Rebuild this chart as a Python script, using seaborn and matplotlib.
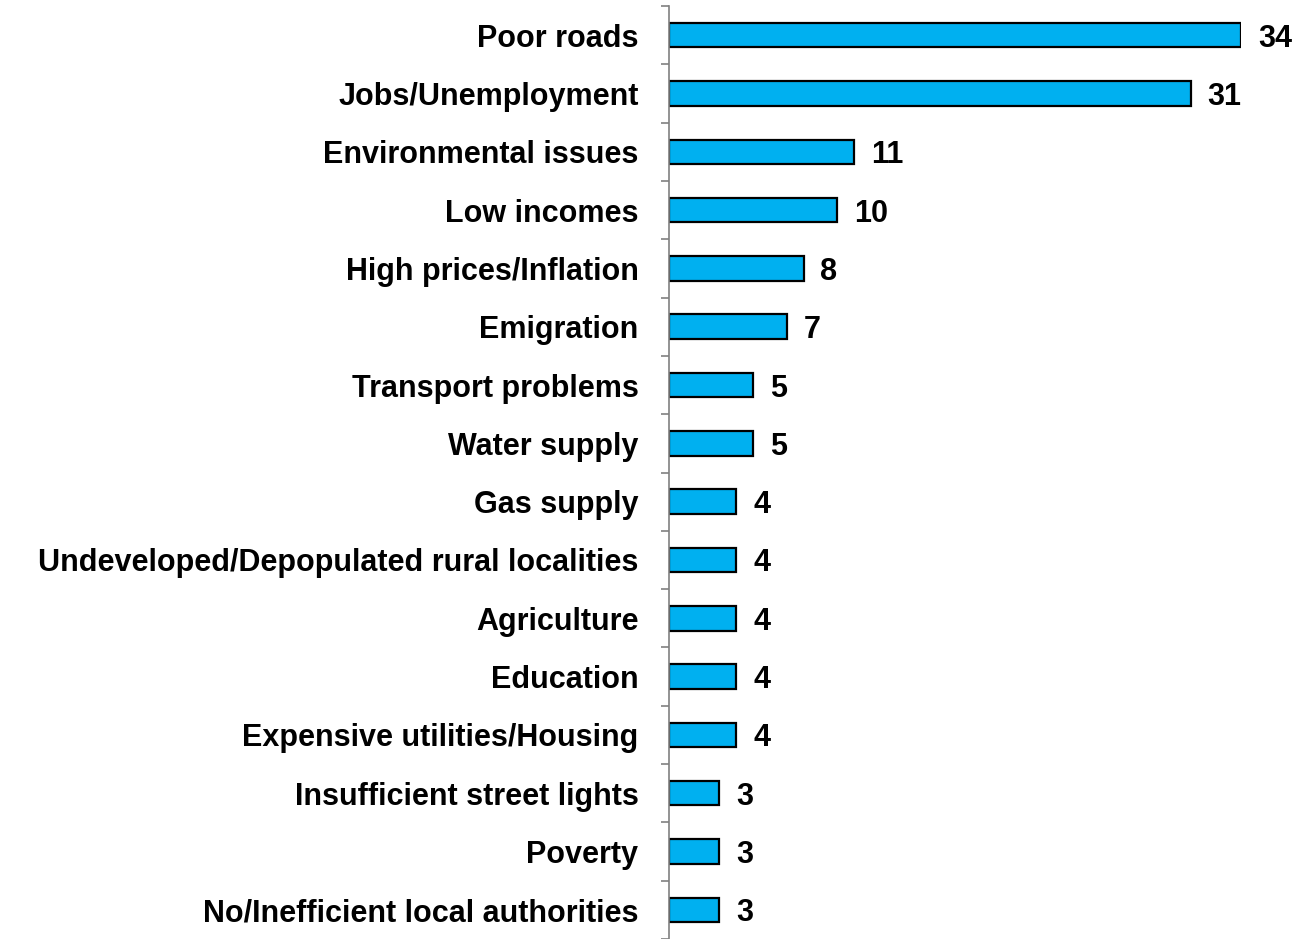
import numpy as np
import pandas as pd
import matplotlib
matplotlib.use("Agg")
import matplotlib.pyplot as plt
import seaborn as sns
from matplotlib.ticker import FixedLocator

problems = [
    "Poor roads",
    "Jobs/Unemployment",
    "Environmental issues",
    "Low incomes",
    "High prices/Inflation",
    "Emigration",
    "Transport problems",
    "Water supply",
    "Gas supply",
    "Undeveloped/Depopulated rural localities",
    "Agriculture",
    "Education",
    "Expensive utilities/Housing",
    "Insufficient street lights",
    "Poverty",
    "No/Inefficient local authorities",
]
values = [34, 31, 11, 10, 8, 7, 5, 5, 4, 4, 4, 4, 4, 3, 3, 3]

df = pd.DataFrame({"problem": problems, "value": values})

sns.set_style("white")
plt.rcParams["font.family"] = ["Liberation Sans", "DejaVu Sans"]
plt.rcParams["text.color"] = "black"
plt.rcParams["ytick.labelcolor"] = "black"

fig = plt.figure(figsize=(12.95, 9.39), dpi=100)
ax = fig.add_axes([669 / 1295, 0.0, 572 / 1295, 933 / 939])

sns.barplot(data=df, x="value", y="problem", orient="h", color="#00B0F0",
            saturation=1, width=0.42, edgecolor="black", linewidth=1.6, ax=ax)

ax.set_xlim(0, 34)
ax.set_ylim(len(problems) - 0.5, -0.5)

for i, v in enumerate(values):
    ax.text(v + 1.0, i, str(v), va="center_baseline", ha="left", fontsize=22,
            fontweight="bold", color="black", clip_on=False)

ax.set_xlabel("")
ax.set_ylabel("")
ax.set_xticks([])
for s in ["top", "right", "bottom"]:
    ax.spines[s].set_visible(False)
ax.spines["left"].set_color("#808080")
ax.spines["left"].set_linewidth(1.2)

ax.tick_params(axis="y", which="major", length=0, pad=22, labelsize=22,
               labelcolor="black")
for lab in ax.get_yticklabels():
    lab.set_fontweight("bold")
ax.yaxis.set_minor_locator(FixedLocator(np.arange(-0.5, len(problems), 1.0)))
ax.tick_params(axis="y", which="minor", length=6, width=1.2, color="#808080",
               left=True)

fig.savefig("out.png", dpi=100)
